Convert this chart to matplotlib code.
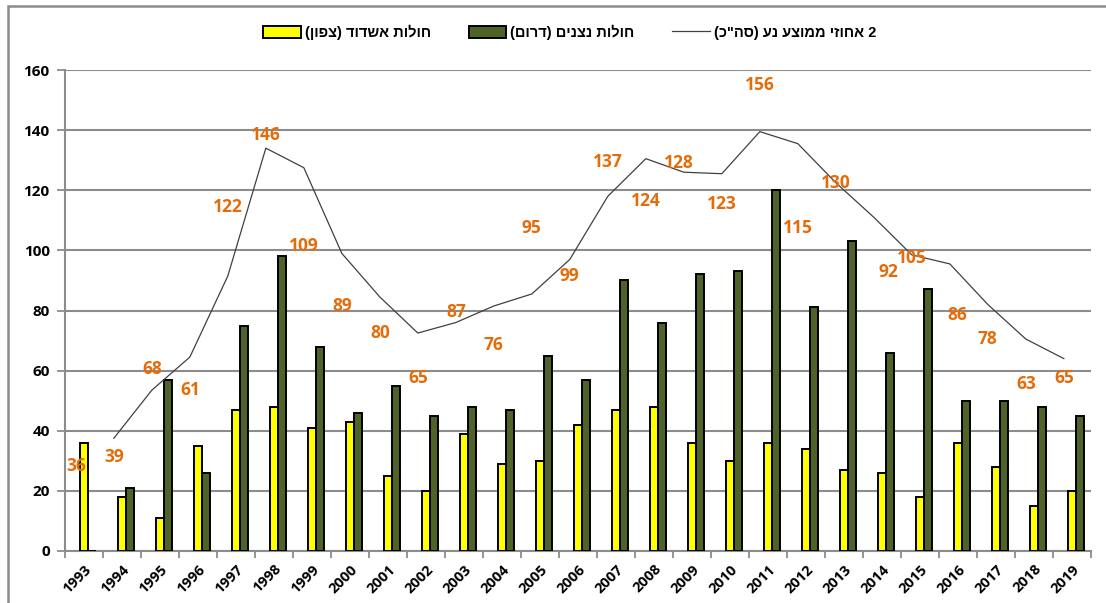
import numpy as np
import pandas as pd
import matplotlib
matplotlib.use("Agg")
import matplotlib.pyplot as plt
from matplotlib.patches import Rectangle

# ---------------------------------------------------------------- data

years = list(range(1993, 2020))
ashdod_north = [36, 18, 11, 35, 47, 48, 41, 43, 25, 20, 39, 29, 30, 42,
                47, 48, 36, 30, 36, 34, 27, 26, 18, 36, 28, 15, 20]
nitzanim_south = [0, 21, 57, 26, 75, 98, 68, 46, 55, 45, 48, 47, 65, 57,
                  90, 76, 92, 93, 120, 81, 103, 66, 87, 50, 50, 48, 45]

# legend texts (logical order, right-to-left)
lbl_north = "חולות אשדוד (צפון)"
lbl_south = "חולות נצנים (דרום)"
lbl_avg = '2 אחוזי ממוצע נע (סה"כ)'

# label nudges (category units, value units) where the source moved the label by hand
label_dx = {12: 0.0, 16: -0.12, 21: 0.37, 23: 0.2}
label_dy = {12: 20.0, 16: 8.5, 18: 6.5, 21: 8.5}

YELLOW = "#FFFF00"
OLIVE = "#4F6228"
ORANGE = "#E46C0A"
GRID = "#8C8C8C"

NUM_FONT = ["Open Sans", "DejaVu Sans"]
HEB_FONT = ["Liberation Sans", "DejaVu Sans"]


def rtl(s):
    """Visual order for a right-to-left string (no bidi engine in matplotlib)."""
    swap = {"(": ")", ")": "("}
    return "".join(swap.get(ch, ch) for ch in reversed(s))


# ---------------------------------------------------------------- derived series

total = pd.Series(ashdod_north) + pd.Series(nitzanim_south)
mov_avg = total.rolling(2).mean()

# ---------------------------------------------------------------- plot

fig = plt.figure(figsize=(11.06, 6.03), dpi=100)
ax = fig.add_axes([65 / 1106, 1 - 551 / 603, (1091 - 65) / 1106, (551 - 70) / 603])

x = np.arange(len(years))
w = 0.215

b1 = ax.bar(x, ashdod_north, width=w, color=YELLOW, edgecolor="black", linewidth=1.4,
            label=rtl(lbl_north), zorder=3)
b2 = ax.bar(x + w, nitzanim_south, width=w, color=OLIVE, edgecolor="black", linewidth=1.4,
            label=rtl(lbl_south), zorder=3)
ln, = ax.plot(x - w, mov_avg, color="#404040", linewidth=0.9, label=rtl(lbl_avg), zorder=4)

for i, t in enumerate(total):
    ax.text(i - w + label_dx.get(i, 0.0), t - 7.6 + label_dy.get(i, 0.0), f"{t:d}",
            ha="center", va="center", color=ORANGE, fontsize=12.5,
            fontweight="bold", family=NUM_FONT, zorder=5)

ax.set_xlim(-0.5, len(years) - 0.5)
ax.set_ylim(0, 160)
ax.set_yticks(range(0, 161, 20))
ax.yaxis.grid(True, color=GRID, linewidth=1.5, zorder=0)
ax.set_axisbelow(True)

ax.set_xticks(x)
ax.set_xticklabels([str(y) for y in years], rotation=45, ha="right",
                   rotation_mode="anchor", fontsize=10.5, fontweight="bold",
                   family=NUM_FONT)
ax.set_xticks(np.arange(-0.5, len(years)), minor=True)
ax.tick_params(axis="x", which="major", length=0, pad=8)
ax.tick_params(axis="x", which="minor", length=5, color=GRID, width=1.3)
ax.tick_params(axis="y", length=6, color=GRID, width=1.3, pad=5)
for lab in ax.get_yticklabels():
    lab.set_fontsize(11)
    lab.set_fontweight("bold")
    lab.set_family(NUM_FONT)

for side in ("top", "right"):
    ax.spines[side].set_visible(False)
for side in ("left", "bottom"):
    ax.spines[side].set_color(GRID)
    ax.spines[side].set_linewidth(1.5)

leg = fig.legend(handles=[b1, b2, ln], loc="center",
                 bbox_to_anchor=(0.515, 1 - 32 / 603), ncol=3,
                 frameon=False, handlelength=2.6, handleheight=0.9,
                 columnspacing=2.6, handletextpad=0.25,
                 prop={"family": HEB_FONT, "weight": "bold", "size": 10.5})

# chart-area border (runs off the right and bottom of the picture)
fig.patches.append(Rectangle((8 / 1106, -0.05), 1.2, 1 - 6 / 603 + 0.05,
                             transform=fig.transFigure, fill=False,
                             edgecolor=GRID, linewidth=1.8))

fig.savefig("out.png", dpi=100)
